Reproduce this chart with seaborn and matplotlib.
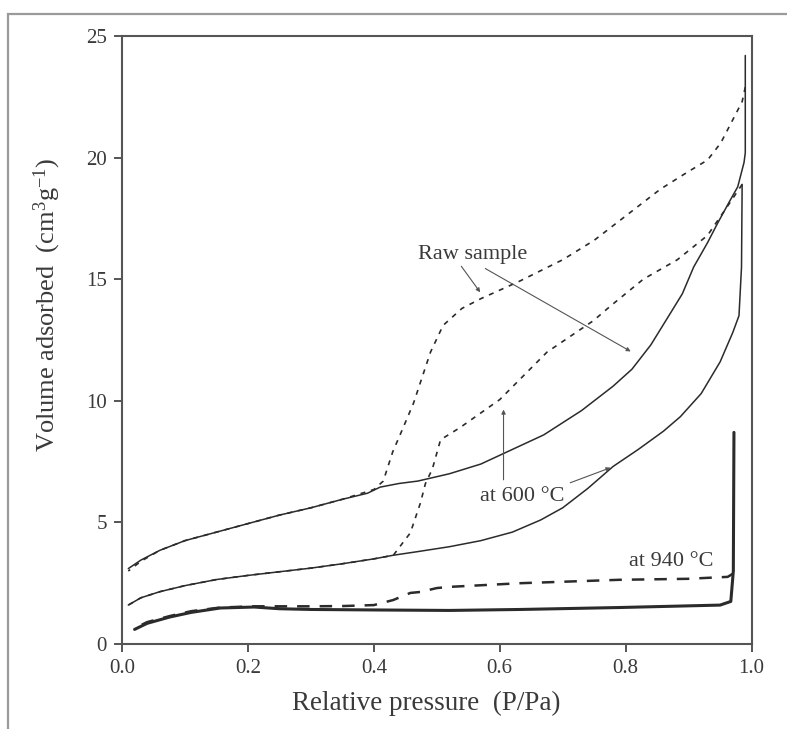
import matplotlib
matplotlib.use("Agg")
import matplotlib.pyplot as plt
from matplotlib.patches import Rectangle
import seaborn as sns

# Isotherm data: (relative pressure, volume adsorbed)
raw_ads_x = [0.01, 0.03, 0.06, 0.1, 0.15, 0.2, 0.25, 0.3, 0.35, 0.39, 0.41, 0.44, 0.47, 0.52,
             0.57, 0.62, 0.67, 0.73, 0.78, 0.81, 0.84, 0.871, 0.89, 0.908, 0.93, 0.946, 0.965,
             0.978, 0.988, 0.99, 0.99]
raw_ads_y = [3.1, 3.45, 3.85, 4.25, 4.6, 4.95, 5.3, 5.6, 5.95, 6.2, 6.45, 6.6, 6.7, 7.0,
             7.4, 8.0, 8.6, 9.6, 10.6, 11.3, 12.3, 13.6, 14.4, 15.5, 16.5, 17.3, 18.2,
             18.8, 19.8, 20.2, 24.2]

raw_des_x = [0.99, 0.985, 0.971, 0.951, 0.93, 0.898, 0.855, 0.80, 0.75, 0.70, 0.63, 0.57,
             0.54, 0.51, 0.49, 0.463, 0.445, 0.43, 0.415, 0.4, 0.35, 0.3, 0.25, 0.2, 0.15,
             0.1, 0.06, 0.03, 0.01]
raw_des_y = [22.9, 22.3, 21.6, 20.6, 19.9, 19.4, 18.7, 17.6, 16.6, 15.8, 14.9, 14.2,
             13.8, 13.1, 12.0, 9.9, 8.8, 7.9, 6.7, 6.35, 5.95, 5.6, 5.3, 4.95, 4.6,
             4.25, 3.85, 3.4, 3.0]

t600_ads_x = [0.01, 0.03, 0.06, 0.1, 0.15, 0.2, 0.25, 0.3, 0.35, 0.4, 0.431, 0.47, 0.52, 0.57,
              0.62, 0.665, 0.7, 0.74, 0.78, 0.82, 0.86, 0.887, 0.92, 0.95, 0.97, 0.98, 0.984,
              0.985]
t600_ads_y = [1.6, 1.9, 2.15, 2.4, 2.65, 2.82, 2.97, 3.12, 3.3, 3.5, 3.65, 3.8, 4.0, 4.25,
              4.6, 5.1, 5.6, 6.4, 7.3, 8.0, 8.75, 9.35, 10.3, 11.6, 12.8, 13.5, 15.5,
              18.9]

t600_des_x = [0.985, 0.967, 0.93, 0.882, 0.828, 0.776, 0.749, 0.675, 0.6, 0.537, 0.506, 0.493,
              0.482, 0.474, 0.458, 0.431, 0.4, 0.35, 0.3, 0.25, 0.2, 0.15, 0.1, 0.06, 0.03,
              0.01]
t600_des_y = [18.9, 18.2, 16.8, 15.8, 15.0, 13.9, 13.3, 12.0, 10.05, 8.9, 8.4, 7.2,
              6.6, 5.8, 4.57, 3.65, 3.5, 3.3, 3.12, 2.97, 2.82, 2.65, 2.4, 2.15, 1.9,
              1.6]

t940_ads_x = [0.02, 0.04, 0.076, 0.11, 0.156, 0.21, 0.25, 0.3, 0.4, 0.52, 0.633, 0.79, 0.95,
              0.967, 0.971, 0.972]
t940_ads_y = [0.6, 0.85, 1.11, 1.3, 1.48, 1.52, 1.45, 1.42, 1.4, 1.38, 1.42, 1.5, 1.6,
              1.75, 3.0, 8.7]

t940_des_x = [0.971, 0.962, 0.898, 0.79, 0.633, 0.521, 0.5, 0.474, 0.458, 0.431, 0.4, 0.35,
              0.3, 0.21, 0.156, 0.11, 0.076, 0.04, 0.02]
t940_des_y = [2.9, 2.76, 2.68, 2.64, 2.5, 2.35, 2.3, 2.14, 2.1, 1.81, 1.6, 1.56,
              1.55, 1.55, 1.5, 1.35, 1.15, 0.9, 0.65]

x_ticks = [0.0, 0.2, 0.4, 0.6, 0.8, 1.0]
y_ticks = [0, 5, 10, 15, 20, 25]

sns.set_theme(style="ticks")
plt.rcParams['font.family'] = ['Liberation Serif', 'DejaVu Serif']
plt.rcParams['mathtext.fontset'] = 'custom'
plt.rcParams['mathtext.rm'] = 'Liberation Serif'
plt.rcParams['mathtext.it'] = 'Liberation Serif:italic'

ink = '#2b2b2b'
txt = '#3a3a3a'

fig = plt.figure(figsize=(7.87, 7.29), dpi=100)
ax = fig.add_axes([0.155, 0.1166, 0.8, 0.834])

# outer frame around the figure
fig.patches.append(Rectangle((8 / 787, -0.2), 2, 1.2 - 14 / 729, transform=fig.transFigure,
                             fill=False, ec='#9a9a9a', lw=1.6, clip_on=False))

curves = [
    (raw_ads_x, raw_ads_y, '-', 1.1),
    (raw_des_x, raw_des_y, (0, (3, 3.5)), 1.2),
    (t600_ads_x, t600_ads_y, '-', 1.1),
    (t600_des_x, t600_des_y, (0, (3, 3.5)), 1.2),
    (t940_ads_x, t940_ads_y, '-', 2.2),
    (t940_des_x, t940_des_y, (0, (5, 4)), 1.8),
]
for xs, ys, ls, lw in curves:
    sns.lineplot(x=xs, y=ys, sort=False, estimator=None, color=ink,
                 linestyle=ls, linewidth=lw, ax=ax)

ax.set_xlim(0, 1.0)
ax.set_ylim(0, 25)
ax.set_xticks(x_ticks)
ax.set_xticklabels([f'{v:.1f}' for v in x_ticks])
ax.set_yticks(y_ticks)

for s in ax.spines.values():
    s.set_color('#555555')
    s.set_linewidth(1.5)
ax.tick_params(axis='both', direction='out', length=6, width=1.4, color='#555555',
               labelsize=15, labelcolor=txt, pad=5)

ax.set_xlabel('Relative pressure  (P/Pa)', fontsize=19.5, color=txt)
ax.set_ylabel('Volume adsorbed  (cm$^{3}$g$^{-1}$)', fontsize=19, color=txt)
ax.xaxis.label.set_va('center')
ax.yaxis.label.set_va('center')
ax.xaxis.set_label_coords(0.484, -0.097)
ax.yaxis.set_label_coords(-0.119, 0.557)

# annotations
ax.text(0.557, 16.0, 'Raw sample', fontsize=16, color=txt, ha='center', va='center')
ax.text(0.635, 6.05, 'at 600 \u00b0C', fontsize=16, color=txt, ha='center', va='center')
ax.text(0.94, 3.4, 'at 940 \u00b0C', fontsize=16, color=txt, ha='right', va='center')

arrow = dict(arrowstyle='-|>', lw=0.8, color='#555555', mutation_scale=6, shrinkA=0, shrinkB=0)
ax.annotate('', xy=(0.569, 14.46), xytext=(0.539, 15.53), arrowprops=arrow)
ax.annotate('', xy=(0.808, 12.03), xytext=(0.577, 15.44), arrowprops=arrow)
ax.annotate('', xy=(0.606, 9.64), xytext=(0.606, 6.75), arrowprops=arrow)
ax.annotate('', xy=(0.776, 7.25), xytext=(0.712, 6.63), arrowprops=arrow)

fig.savefig('out.png', dpi=100)
